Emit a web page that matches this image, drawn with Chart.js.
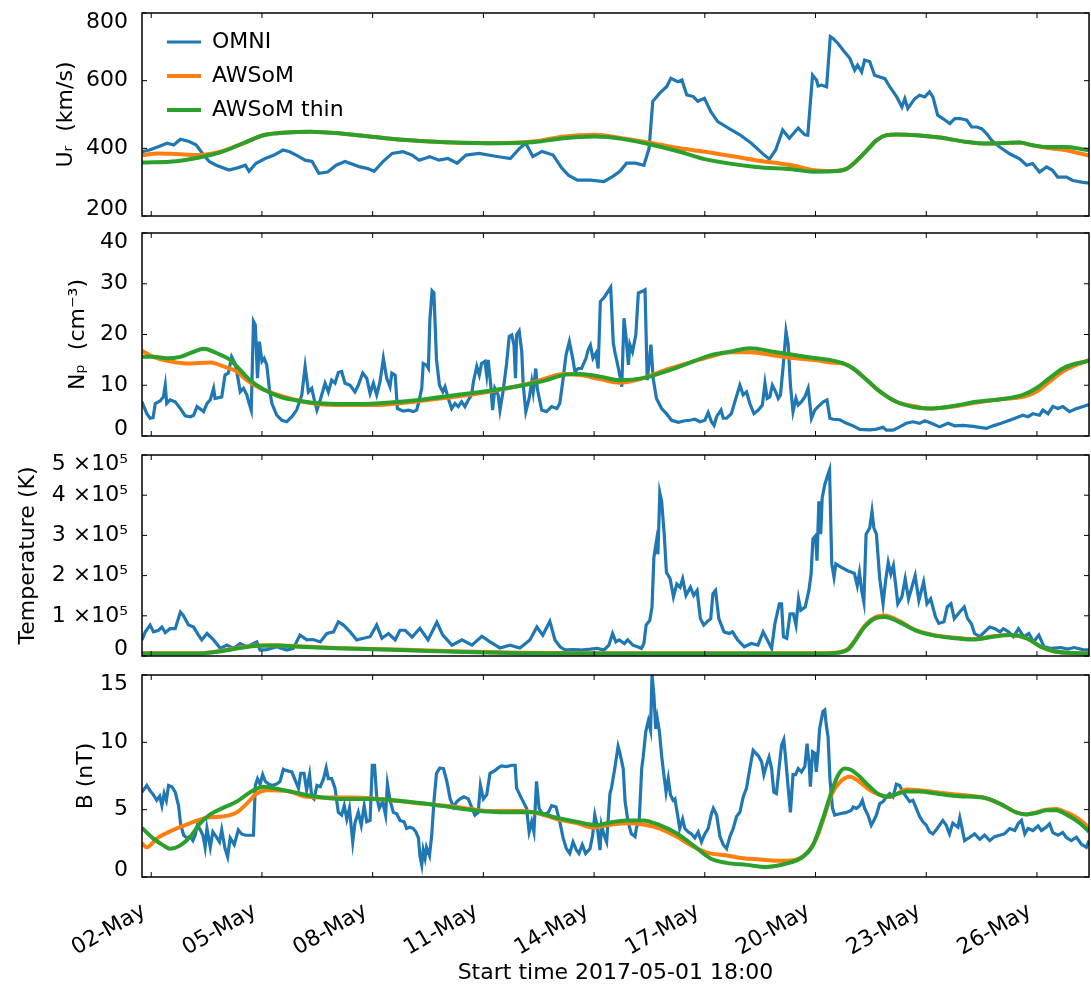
<!DOCTYPE html>
<html>
<head>
<meta charset="utf-8">
<script src="https://cdn.jsdelivr.net/npm/chart.js@4.4.0/dist/chart.umd.min.js"></script>
<style>
  body { margin: 0; background: #fff; }
  #wrap { position: relative; width: 1091px; height: 987px; }
  canvas { position: absolute; left: 0; }
</style>
</head>
<body>
<div id="wrap">
  <canvas id="c-speed" width="1091" height="225" style="top:0px"></canvas>
  <canvas id="c-dens" width="1091" height="220" style="top:225px"></canvas>
  <canvas id="c-temp" width="1091" height="220" style="top:445px"></canvas>
  <canvas id="c-field" width="1091" height="322" style="top:665px"></canvas>
</div>
<script>
// time axis is "day of May 2017" (1.75 = 01-May 18:00)
const tickDays = [2, 5, 8, 11, 14, 17, 20, 23, 26];
const tickLabels = ['02-May', '05-May', '08-May', '11-May', '14-May', '17-May', '20-May', '23-May', '26-May'];
const seriesNames = ['OMNI', 'AWSoM', 'AWSoM thin'];
const seriesColors = ['#1f77b4', '#ff7f0e', '#2ca02c'];

// ---- solar wind speed (km/s)
const omniSpeed = [[1.75,390],[1.95,395],[2.19,405],[2.43,415],[2.61,410],[2.79,427],[3.03,420],[3.22,410],[3.39,385],[3.57,361],[3.76,350],[4.11,336],[4.36,343],[4.55,350],[4.65,332],[4.84,356],[5.09,370],[5.33,380],[5.57,395],[5.75,390],[5.93,380],[6.17,365],[6.36,361],[6.54,326],[6.78,330],[7.01,350],[7.25,361],[7.63,346],[7.87,340],[8.04,332],[8.28,361],[8.53,385],[8.82,390],[9.07,380],[9.26,365],[9.55,375],[9.8,365],[10.04,370],[10.29,356],[10.53,380],[10.88,385],[11.37,376],[11.73,370],[11.98,400],[12.15,415],[12.34,376],[12.59,391],[12.89,380],[13.13,341],[13.31,320],[13.55,306],[13.91,306],[14.27,302],[14.51,317],[14.7,332],[14.88,356],[15.12,356],[15.35,350],[15.49,400],[15.59,539],[15.78,563],[15.97,583],[16.08,607],[16.27,597],[16.38,602],[16.51,558],[16.69,553],[16.81,539],[16.99,548],[17.16,509],[17.35,479],[17.65,459],[17.95,440],[18.26,415],[18.56,385],[18.75,368],[18.92,395],[19.11,454],[19.29,430],[19.53,460],[19.71,440],[19.79,439],[19.92,616],[20.03,601],[20.07,584],[20.16,587],[20.3,582],[20.4,730],[20.47,725],[20.61,710],[20.75,690],[20.93,666],[21.06,631],[21.14,646],[21.25,626],[21.33,661],[21.47,656],[21.6,616],[21.74,611],[21.88,606],[22.01,582],[22.2,552],[22.34,522],[22.42,547],[22.5,518],[22.69,547],[22.82,557],[22.96,552],[23.09,567],[23.18,552],[23.31,498],[23.45,488],[23.64,473],[23.77,488],[23.91,488],[24.1,483],[24.23,463],[24.37,463],[24.5,458],[24.64,443],[24.77,424],[24.99,404],[25.26,384],[25.53,369],[25.72,350],[25.88,355],[26.07,330],[26.26,345],[26.42,335],[26.56,315],[26.8,315],[26.97,305],[27.21,300],[27.41,297]];
const awsomSpeed = [[1.75,380],[2.19,385],[2.68,383],[3.27,380],[3.87,390],[4.49,415],[5.09,440],[5.68,447],[6.31,449],[7.14,444],[8.35,430],[9.55,420],[11.13,415],[12.34,420],[13.18,435],[14.02,440],[14.75,430],[15.59,415],[16.32,400],[17.0,390],[18.38,365],[19.36,350],[19.92,336],[20.47,333],[20.85,340],[21.12,364],[21.39,394],[21.66,424],[21.93,439],[22.2,441],[22.74,439],[23.36,432],[24.1,419],[24.64,414],[25.18,416],[25.53,417],[25.88,409],[26.26,402],[26.8,394],[27.16,385],[27.41,379]];
const thinSpeed = [[1.75,358],[2.68,362],[3.27,372],[3.87,388],[4.49,415],[5.09,440],[5.68,447],[6.31,449],[7.14,444],[8.35,430],[9.55,420],[11.13,415],[12.34,418],[13.18,430],[14.02,435],[14.75,428],[15.59,410],[16.32,390],[17.0,368],[18.38,345],[19.36,338],[19.92,331],[20.47,332],[20.85,340],[21.12,364],[21.39,394],[21.66,424],[21.93,439],[22.2,441],[22.74,439],[23.36,432],[24.1,419],[24.64,414],[25.18,416],[25.53,417],[25.88,409],[26.26,404],[26.8,404],[27.16,399],[27.41,394]];

// ---- proton density (cm^-3)
const omniDens = [[1.75,6.75],[1.88,4.4],[1.97,3.5],[2.05,3.6],[2.11,6.4],[2.24,6.9],[2.33,7.7],[2.38,10.0],[2.42,6.4],[2.51,7.1],[2.65,6.75],[2.79,5.4],[2.92,4.0],[3.06,3.8],[3.15,4.1],[3.24,5.8],[3.37,5.1],[3.42,4.8],[3.51,6.4],[3.6,7.1],[3.69,9.4],[3.73,7.4],[3.91,7.7],[4.0,12.0],[4.09,12.4],[4.18,15.6],[4.27,14.3],[4.35,11.4],[4.41,8.7],[4.5,9.4],[4.59,8.1],[4.64,6.75],[4.71,5.1],[4.77,22.6],[4.82,21.9],[4.88,11.4],[4.93,18.6],[5.0,14.7],[5.06,15.3],[5.13,14.0],[5.2,9.4],[5.27,6.4],[5.4,4.1],[5.54,3.1],[5.67,2.8],[5.81,3.8],[5.94,5.1],[6.08,8.1],[6.17,13.7],[6.26,8.7],[6.35,9.4],[6.41,7.4],[6.49,5.1],[6.58,7.1],[6.71,10.4],[6.8,8.7],[6.89,11.0],[6.98,10.4],[7.07,12.5],[7.16,12.7],[7.25,10.4],[7.39,10.0],[7.52,8.7],[7.61,10.0],[7.73,12.4],[7.84,11.4],[7.93,8.4],[8.02,10.4],[8.11,8.1],[8.2,10.7],[8.29,15.3],[8.38,11.4],[8.47,9.7],[8.52,12.4],[8.61,12.0],[8.67,5.4],[8.83,4.9],[8.97,5.1],[9.1,4.8],[9.19,5.1],[9.24,6.4],[9.33,9.4],[9.37,14.3],[9.45,14.0],[9.51,13.3],[9.55,22.9],[9.61,28.6],[9.66,28.2],[9.73,15.0],[9.81,10.0],[9.9,8.7],[9.96,9.7],[10.05,7.4],[10.14,5.4],[10.23,6.4],[10.32,5.8],[10.41,6.75],[10.5,5.8],[10.59,7.1],[10.68,8.1],[10.73,10.7],[10.82,13.7],[10.89,12.0],[10.95,14.3],[11.04,14.7],[11.09,12.0],[11.13,15.0],[11.2,10.0],[11.25,5.1],[11.31,9.4],[11.4,8.1],[11.45,5.1],[11.54,9.1],[11.63,14.3],[11.7,19.6],[11.77,19.9],[11.83,17.9],[11.87,11.4],[11.9,19.9],[11.97,20.7],[12.04,16.6],[12.08,10.0],[12.15,4.8],[12.24,7.4],[12.31,10.7],[12.35,8.7],[12.42,13.3],[12.46,9.4],[12.58,5.1],[12.71,4.8],[12.85,5.8],[12.99,5.4],[13.07,6.4],[13.15,10.7],[13.24,16.0],[13.33,18.6],[13.42,15.3],[13.48,12.7],[13.57,13.3],[13.66,13.3],[13.78,15.3],[13.84,17.0],[13.9,17.9],[13.97,15.3],[14.05,16.3],[14.11,13.3],[14.17,26.5],[14.29,27.5],[14.45,29.3],[14.52,18.3],[14.57,16.3],[14.66,13.3],[14.72,11.0],[14.75,9.7],[14.81,23.2],[14.86,19.9],[14.93,14.0],[14.97,18.0],[15.04,16.6],[15.13,19.9],[15.2,28.2],[15.31,28.5],[15.38,28.8],[15.44,11.0],[15.5,15.0],[15.54,18.0],[15.6,11.4],[15.69,7.4],[15.83,5.4],[15.96,4.4],[16.1,3.1],[16.28,2.7],[16.46,3.0],[16.6,3.1],[16.73,3.3],[16.87,2.8],[17.0,3.1],[17.09,4.6],[17.18,2.8],[17.25,2.1],[17.32,3.8],[17.44,5.1],[17.5,3.5],[17.59,3.5],[17.72,4.4],[17.84,7.4],[17.95,10.0],[18.04,8.1],[18.13,8.7],[18.22,6.4],[18.33,4.4],[18.45,5.1],[18.56,6.1],[18.63,10.4],[18.69,7.4],[18.76,7.7],[18.83,10.0],[18.92,8.7],[18.99,7.4],[19.05,8.1],[19.12,13.5],[19.2,20.6],[19.26,18.0],[19.32,10.0],[19.39,4.8],[19.47,7.4],[19.53,6.1],[19.62,6.75],[19.71,7.7],[19.8,9.4],[19.89,3.5],[19.98,5.1],[20.07,5.8],[20.21,6.75],[20.31,7.1],[20.39,3.5],[20.48,3.3],[20.66,3.2],[20.84,2.5],[21.02,2.0],[21.2,1.3],[21.47,1.2],[21.65,1.35],[21.83,1.7],[21.92,1.15],[22.1,1.15],[22.28,1.8],[22.46,2.5],[22.64,2.8],[22.82,2.5],[22.96,3.0],[23.14,2.5],[23.36,1.8],[23.59,2.5],[23.77,2.0],[24.0,2.1],[24.27,1.9],[24.45,1.7],[24.63,1.5],[24.81,2.0],[25.03,2.5],[25.26,3.1],[25.44,3.6],[25.62,4.1],[25.76,3.8],[25.89,4.4],[26.07,4.1],[26.16,5.1],[26.3,4.4],[26.43,5.8],[26.57,5.4],[26.7,5.8],[26.88,4.8],[27.07,5.4],[27.25,5.8],[27.41,6.2]];
const awsomDens = [[1.75,16.8],[2.06,15.6],[2.51,14.7],[2.97,14.3],[3.6,14.5],[3.96,13.7],[4.32,12.7],[4.59,11.0],[4.95,9.4],[5.31,8.4],[5.76,7.4],[6.4,6.4],[7.12,6.1],[8.02,6.1],[8.92,6.6],[9.82,7.4],[10.73,8.2],[11.63,9.4],[12.26,10.4],[12.71,11.4],[13.16,12.2],[13.62,12.0],[14.16,11.2],[14.7,10.5],[15.33,11.4],[16.05,13.3],[16.69,14.7],[17.14,15.6],[17.68,16.5],[18.22,16.5],[18.94,15.8],[19.48,15.3],[20.03,14.9],[20.39,14.5],[20.75,14.3],[21.02,13.3],[21.38,11.1],[21.74,8.8],[22.19,6.75],[22.73,5.8],[23.09,5.4],[23.73,5.8],[24.36,6.6],[25.08,7.3],[25.62,7.7],[25.98,8.7],[26.34,10.7],[26.7,12.7],[27.07,14.0],[27.41,15.0]];
const thinDens = [[1.75,15.6],[2.06,15.6],[2.42,15.3],[2.79,15.6],[3.15,16.6],[3.42,17.2],[3.78,16.3],[4.14,15.0],[4.41,13.0],[4.68,11.0],[5.04,9.2],[5.49,7.7],[6.03,6.9],[6.67,6.4],[7.57,6.3],[8.47,6.6],[9.37,7.2],[10.28,8.1],[11.18,8.9],[12.08,10.0],[12.71,11.0],[13.16,12.0],[13.62,12.2],[14.16,11.7],[14.7,11.0],[15.33,11.4],[16.05,13.0],[16.69,14.7],[17.14,15.9],[17.68,16.6],[18.22,17.3],[18.94,16.5],[19.48,15.9],[20.03,15.3],[20.39,15.0],[20.75,14.3],[21.02,13.3],[21.38,11.1],[21.74,8.8],[22.19,6.75],[22.73,5.6],[23.09,5.4],[23.73,5.9],[24.36,6.75],[25.08,7.3],[25.62,8.1],[25.98,9.4],[26.34,11.4],[26.7,13.3],[27.07,14.3],[27.41,14.8]];

// ---- proton temperature (K)
const omniTemp = [[1.75,40000],[1.84,60000],[1.97,77000],[2.06,60000],[2.2,64000],[2.29,72000],[2.38,58000],[2.51,68000],[2.65,68000],[2.79,109000],[2.87,101000],[3.01,77000],[3.15,72000],[3.28,52000],[3.37,40000],[3.51,56000],[3.69,40000],[3.87,19000],[4.05,27000],[4.23,19000],[4.41,31000],[4.59,23000],[4.86,35000],[4.95,15000],[5.13,16000],[5.4,23000],[5.67,15000],[5.85,19000],[6.03,52000],[6.22,40000],[6.39,41000],[6.58,35000],[6.76,56000],[6.94,60000],[7.07,85000],[7.21,77000],[7.39,60000],[7.57,40000],[7.75,44000],[7.93,48000],[8.11,77000],[8.25,44000],[8.43,56000],[8.61,40000],[8.74,64000],[8.88,64000],[9.07,47000],[9.28,69000],[9.5,40000],[9.74,84000],[9.9,52000],[10.15,27000],[10.42,40000],[10.69,27000],[10.96,49000],[11.18,35000],[11.45,20000],[11.72,27000],[11.99,20000],[12.26,40000],[12.45,72000],[12.61,52000],[12.8,86000],[12.94,40000],[13.08,23000],[13.21,15000],[13.44,16000],[13.63,15000],[13.9,17000],[14.08,19000],[14.27,15000],[14.4,27000],[14.5,56000],[14.59,35000],[14.68,40000],[14.82,31000],[14.91,40000],[15.05,27000],[15.18,23000],[15.28,19000],[15.35,31000],[15.41,77000],[15.51,89000],[15.57,122000],[15.62,245000],[15.69,286000],[15.73,253000],[15.78,406000],[15.83,385000],[15.9,303000],[15.96,208000],[16.06,192000],[16.15,147000],[16.24,179000],[16.33,171000],[16.4,192000],[16.49,151000],[16.61,171000],[16.7,151000],[16.79,163000],[16.88,93000],[16.97,77000],[17.06,85000],[17.16,93000],[17.22,155000],[17.29,163000],[17.38,93000],[17.52,60000],[17.66,56000],[17.75,60000],[17.89,40000],[18.07,23000],[18.26,31000],[18.44,27000],[18.58,60000],[18.67,44000],[18.81,19000],[18.9,81000],[19.02,130000],[19.08,130000],[19.13,48000],[19.22,44000],[19.31,105000],[19.4,105000],[19.47,77000],[19.54,142000],[19.6,114000],[19.72,122000],[19.82,163000],[19.88,204000],[19.93,291000],[20.0,299000],[20.04,237000],[20.09,385000],[20.14,303000],[20.18,393000],[20.25,426000],[20.32,447000],[20.38,463000],[20.44,229000],[20.5,196000],[20.55,229000],[20.69,221000],[20.87,212000],[21.05,206000],[21.13,175000],[21.19,208000],[21.25,163000],[21.31,134000],[21.37,303000],[21.47,319000],[21.53,360000],[21.58,319000],[21.65,303000],[21.74,192000],[21.83,130000],[21.9,188000],[21.97,233000],[22.04,204000],[22.11,225000],[22.23,130000],[22.34,147000],[22.43,192000],[22.52,142000],[22.61,171000],[22.7,200000],[22.8,138000],[22.93,184000],[23.02,130000],[23.12,142000],[23.25,97000],[23.34,81000],[23.48,85000],[23.57,122000],[23.67,130000],[23.76,93000],[23.9,109000],[24.03,122000],[24.12,93000],[24.22,81000],[24.31,56000],[24.45,48000],[24.58,60000],[24.72,72000],[24.86,68000],[25.0,60000],[25.09,68000],[25.23,60000],[25.36,48000],[25.5,68000],[25.64,48000],[25.78,56000],[25.91,35000],[26.05,52000],[26.19,23000],[26.37,19000],[26.65,21000],[26.83,17000],[27.01,21000],[27.24,16000],[27.41,15000]];
const awsomTemp = [[1.75,7000],[3.3,7000],[3.9,13000],[4.4,21000],[4.8,26000],[5.4,27000],[6.0,24000],[7.0,20000],[8.7,16000],[10.5,11000],[12.0,8000],[14.0,7000],[20.2,7000],[20.6,9000],[20.87,17000],[21.05,37000],[21.33,75000],[21.6,96000],[21.88,101000],[22.25,88000],[22.7,65000],[23.16,53000],[23.71,46000],[24.26,42000],[24.81,49000],[25.27,52000],[25.73,44000],[26.1,23000],[26.46,12000],[26.83,8000],[27.41,7000]];
const thinTemp = [[1.75,6000],[3.3,6000],[3.9,12000],[4.4,20000],[4.8,25000],[5.4,26000],[6.0,23000],[7.0,19000],[8.7,15000],[10.5,10000],[12.0,7000],[14.0,6000],[20.2,6000],[20.6,8000],[20.87,15000],[21.05,35000],[21.33,72000],[21.6,93000],[21.88,97000],[22.25,85000],[22.7,64000],[23.16,52000],[23.71,45000],[24.26,41000],[24.81,48000],[25.27,52000],[25.73,44000],[26.1,23000],[26.46,12000],[26.83,8000],[27.41,6000]];

// ---- magnetic field magnitude (nT)
const omniField = [[1.75,6.3],[1.88,6.8],[1.97,6.4],[2.06,6.1],[2.15,5.7],[2.23,6.0],[2.29,5.3],[2.35,6.2],[2.41,5.7],[2.47,6.8],[2.56,6.7],[2.65,6.3],[2.74,5.3],[2.8,3.85],[2.88,3.1],[2.97,2.9],[3.06,3.0],[3.13,2.7],[3.19,3.1],[3.25,3.85],[3.33,3.5],[3.4,3.1],[3.46,2.2],[3.51,3.6],[3.6,2.2],[3.67,3.35],[3.76,3.0],[3.85,2.6],[3.91,3.5],[4.0,2.1],[4.07,1.5],[4.14,2.9],[4.25,2.4],[4.36,3.5],[4.45,3.2],[4.55,3.1],[4.68,3.1],[4.77,3.1],[4.82,6.8],[4.88,7.3],[4.95,6.9],[5.02,7.6],[5.09,7.1],[5.18,6.9],[5.27,6.8],[5.4,6.9],[5.49,7.1],[5.58,8.0],[5.67,7.9],[5.81,7.8],[5.9,7.2],[5.99,6.6],[6.05,7.7],[6.14,7.7],[6.21,6.45],[6.29,7.6],[6.35,5.95],[6.41,5.8],[6.49,6.8],[6.58,6.7],[6.67,7.3],[6.74,8.1],[6.8,7.3],[6.89,7.3],[6.98,6.6],[7.07,4.8],[7.16,4.6],[7.23,5.3],[7.3,4.3],[7.37,5.1],[7.46,2.6],[7.52,4.0],[7.61,4.8],[7.69,3.85],[7.77,5.3],[7.84,4.1],[7.93,4.2],[7.99,8.3],[8.05,8.3],[8.11,5.95],[8.18,5.1],[8.27,5.6],[8.35,4.6],[8.4,6.9],[8.47,5.7],[8.56,4.8],[8.65,4.7],[8.74,4.2],[8.85,4.1],[8.92,3.6],[9.01,3.7],[9.1,3.6],[9.17,3.35],[9.24,2.9],[9.28,1.6],[9.33,0.9],[9.37,2.0],[9.42,1.4],[9.46,2.2],[9.54,1.6],[9.6,3.1],[9.66,5.6],[9.73,7.7],[9.82,8.1],[9.92,8.05],[10.01,7.1],[10.1,5.8],[10.19,5.2],[10.28,5.6],[10.37,5.8],[10.47,5.95],[10.59,5.8],[10.68,5.2],[10.77,4.6],[10.86,4.8],[10.92,6.8],[11.0,5.8],[11.09,6.1],[11.18,7.7],[11.31,7.9],[11.4,8.1],[11.49,8.25],[11.63,8.2],[11.77,8.3],[11.86,8.3],[11.9,6.6],[12.04,5.8],[12.17,5.1],[12.24,3.35],[12.31,4.1],[12.37,3.35],[12.44,7.1],[12.51,5.1],[12.62,4.6],[12.76,4.8],[12.85,5.3],[12.97,5.2],[13.07,4.1],[13.16,2.9],[13.25,2.1],[13.34,1.75],[13.43,2.6],[13.52,2.0],[13.59,1.75],[13.68,2.4],[13.77,1.75],[13.89,2.1],[13.96,3.1],[14.02,4.6],[14.08,3.85],[14.16,2.0],[14.2,3.85],[14.27,3.1],[14.34,2.6],[14.43,6.2],[14.47,6.6],[14.56,8.05],[14.65,9.7],[14.7,9.2],[14.79,8.05],[14.84,5.6],[14.92,4.1],[15.01,3.2],[15.11,3.0],[15.15,3.7],[15.22,4.1],[15.29,8.05],[15.33,8.9],[15.4,10.8],[15.47,11.6],[15.53,10.9],[15.57,15.0],[15.62,13.5],[15.67,11.0],[15.71,11.8],[15.77,10.8],[15.83,9.0],[15.89,7.6],[15.95,6.3],[16.01,7.3],[16.07,6.1],[16.14,5.7],[16.19,5.8],[16.25,4.8],[16.32,3.6],[16.4,4.3],[16.46,3.6],[16.55,3.35],[16.64,3.2],[16.73,2.9],[16.82,3.35],[16.91,2.6],[17.0,3.2],[17.09,3.6],[17.18,4.7],[17.23,5.1],[17.32,4.6],[17.41,3.0],[17.5,2.4],[17.59,2.1],[17.68,3.0],[17.77,3.6],[17.86,4.5],[17.95,4.8],[18.04,5.95],[18.13,6.6],[18.22,8.05],[18.31,9.4],[18.45,9.0],[18.54,8.55],[18.6,7.6],[18.67,8.3],[18.74,8.9],[18.81,8.05],[18.87,6.3],[18.94,6.2],[19.01,8.05],[19.08,9.8],[19.14,10.2],[19.19,8.8],[19.26,6.6],[19.32,4.8],[19.39,7.6],[19.46,7.6],[19.53,8.05],[19.62,7.8],[19.71,8.2],[19.77,9.9],[19.83,8.3],[19.86,6.7],[19.92,9.3],[19.98,9.2],[20.02,7.8],[20.07,9.3],[20.11,11.0],[20.2,12.3],[20.25,12.4],[20.29,11.3],[20.34,10.4],[20.39,7.3],[20.46,5.1],[20.52,4.6],[20.66,4.7],[20.84,4.8],[20.97,4.95],[21.02,5.2],[21.11,5.1],[21.2,5.3],[21.27,5.7],[21.33,5.1],[21.42,4.6],[21.51,3.85],[21.58,4.2],[21.65,4.6],[21.74,5.45],[21.83,5.6],[21.92,5.95],[22.01,6.2],[22.1,5.95],[22.19,6.9],[22.28,6.8],[22.37,6.3],[22.46,5.95],[22.55,5.6],[22.64,5.7],[22.73,5.1],[22.82,4.5],[22.91,4.1],[23.0,3.85],[23.09,3.35],[23.18,3.2],[23.27,3.5],[23.36,3.85],[23.45,4.2],[23.54,3.85],[23.63,3.2],[23.72,4.0],[23.86,3.7],[23.91,4.4],[24.04,2.7],[24.18,2.95],[24.31,3.2],[24.45,2.8],[24.58,3.1],[24.72,2.7],[24.85,3.0],[24.99,3.1],[25.12,3.2],[25.26,3.6],[25.4,3.45],[25.49,3.95],[25.58,4.2],[25.67,3.2],[25.76,3.6],[25.89,3.45],[26.03,3.8],[26.12,3.45],[26.25,3.7],[26.34,3.95],[26.43,3.3],[26.57,3.1],[26.7,3.3],[26.79,2.95],[26.93,2.7],[27.07,2.95],[27.2,2.45],[27.34,2.2],[27.41,2.7]];
const awsomField = [[1.75,2.5],[1.88,2.2],[2.15,2.85],[2.6,3.5],[3.06,4.0],[3.51,4.4],[3.96,4.5],[4.32,4.8],[4.59,5.45],[4.86,6.2],[5.13,6.45],[5.67,6.4],[6.21,5.95],[6.76,5.9],[7.57,5.9],[8.47,5.7],[9.37,5.45],[10.28,5.2],[11.18,4.9],[12.08,4.9],[12.53,4.7],[12.98,4.3],[13.53,4.0],[13.98,3.65],[14.34,3.85],[14.88,4.0],[15.33,3.9],[15.78,3.6],[16.23,3.0],[16.69,2.25],[17.14,1.75],[17.59,1.6],[18.04,1.4],[18.49,1.3],[18.94,1.2],[19.39,1.25],[19.75,1.75],[20.02,2.85],[20.25,4.6],[20.43,6.1],[20.66,7.05],[20.93,7.45],[21.2,7.05],[21.47,6.45],[21.74,6.1],[22.01,5.95],[22.19,6.15],[22.46,6.5],[22.82,6.45],[23.27,6.3],[23.9,6.1],[24.54,5.9],[24.99,5.45],[25.44,4.8],[25.71,4.65],[25.98,4.8],[26.25,5.0],[26.52,5.05],[26.79,4.8],[27.06,4.45],[27.29,3.95],[27.41,3.6]];
const thinField = [[1.75,3.65],[2.06,2.85],[2.33,2.35],[2.51,2.1],[2.79,2.35],[3.06,3.0],[3.33,4.0],[3.6,4.65],[3.96,5.15],[4.32,5.6],[4.68,6.3],[5.04,6.7],[5.49,6.5],[5.85,6.3],[6.4,6.0],[7.12,5.8],[8.02,5.8],[8.92,5.6],[9.82,5.3],[10.73,4.95],[11.63,4.8],[12.35,4.8],[12.98,4.4],[13.52,4.1],[14.07,3.85],[14.43,4.05],[14.88,4.2],[15.33,4.2],[15.78,3.85],[16.23,3.25],[16.69,2.35],[17.14,1.4],[17.59,1.05],[18.13,0.9],[18.67,0.75],[19.21,1.0],[19.66,1.5],[19.93,2.35],[20.2,4.35],[20.43,6.3],[20.61,7.55],[20.79,8.05],[20.97,7.95],[21.2,7.45],[21.47,6.7],[21.74,6.1],[21.96,5.95],[22.19,6.15],[22.46,6.35],[22.82,6.35],[23.27,6.2],[23.9,6.0],[24.54,5.9],[24.99,5.45],[25.44,4.8],[25.71,4.65],[25.98,4.75],[26.25,4.95],[26.52,4.95],[26.79,4.65],[27.06,4.2],[27.29,3.7],[27.41,3.35]];

const xMin = 1.75, xMax = 27.41;

Chart.defaults.font.family = "'DejaVu Sans', sans-serif";
Chart.defaults.font.size = 22;
Chart.defaults.color = '#000';

// inward ticks on all four sides + black frame, like the matplotlib axes
const frameTicks = {
  id: 'frameTicks',
  beforeDraw(chart) {
    // end labels sit inside the axes span
    const items = chart.scales.y.getLabelItems();
    if (!items.length || items[0].nudged) return;
    items[0].options.translation[1] -= 7;
    items[items.length - 1].options.translation[1] += 9;
    items[0].nudged = true;
  },
  afterDatasetsDraw(chart) {
    const {ctx, chartArea: a, scales: {x, y}} = chart;
    ctx.save();
    ctx.strokeStyle = '#000';
    ctx.lineWidth = 1;
    ctx.beginPath();
    for (const d of tickDays) {
      const px = x.getPixelForValue(d);
      ctx.moveTo(px, a.bottom); ctx.lineTo(px, a.bottom - 5);
      ctx.moveTo(px, a.top); ctx.lineTo(px, a.top + 5);
    }
    for (const t of y.ticks) {
      const py = y.getPixelForValue(t.value);
      ctx.moveTo(a.left, py); ctx.lineTo(a.left + 5, py);
      ctx.moveTo(a.right, py); ctx.lineTo(a.right - 5, py);
    }
    ctx.stroke();
    ctx.lineWidth = 1.5;
    ctx.strokeRect(a.left, a.top, a.right - a.left, a.bottom - a.top);
    ctx.restore();
  }
};

// legend sits in the upper-left corner of the top axes
const legendNudge = {
  id: 'legendNudge',
  afterLayout(chart) {
    if (!chart.legend) return;
    chart.legend.left = chart.chartArea.left + 13;
    chart.legend.top = chart.chartArea.top + 6;
  }
};

function lineSets(omni, awsom, thin) {
  return [omni, awsom, thin].map((data, i) => ({
    label: seriesNames[i],
    data,
    borderColor: seriesColors[i],
    backgroundColor: seriesColors[i],
    borderWidth: i === 0 ? 3.2 : 4,
    pointRadius: 0,
    fill: false,
    order: 3 - i,
    cubicInterpolationMode: i === 0 ? 'default' : 'monotone',
    tension: 0
  }));
}

function makePanel(id, sets, y, pad, bottomAxis, withLegend) {
  const x = {
    type: 'linear', min: xMin, max: xMax,
    display: !!bottomAxis,
    afterBuildTicks: s => { s.ticks = tickDays.map(v => ({value: v})); },
    grid: {display: false},
    border: {display: false},
    ticks: {
      autoSkip: false, minRotation: 30, maxRotation: 30, padding: 13, labelOffset: -7,
      callback: v => tickLabels[tickDays.indexOf(v)]
    },
    title: {display: !!bottomAxis, text: 'Start time 2017-05-01 18:00', padding: {top: 0, bottom: 1}},
    afterFit: s => {
      s.paddingLeft = 0; s.paddingRight = 0;
      if (bottomAxis) s.height = 110;
    }
  };
  return new Chart(document.getElementById(id), {
    type: 'line',
    data: {datasets: sets},
    options: {
      responsive: false,
      animation: false,
      devicePixelRatio: 1,
      events: [],
      layout: {padding: pad},
      scales: {
        x,
        y: {
          min: y.min, max: y.max,
          grid: {display: false},
          border: {display: false},
          ticks: {stepSize: y.step, padding: 6, callback: y.fmt || (v => v)},
          title: {display: true, text: y.title, padding: 0},
          afterFit: s => {
            s.width = 142 - pad.left;
            s.paddingTop = 0; s.paddingBottom = 0;
          }
        }
      },
      plugins: {
        tooltip: {enabled: false},
        legend: withLegend ? {
          display: true,
          position: 'chartArea',
          align: 'start',
          labels: {
            usePointStyle: true, pointStyle: 'line', pointStyleWidth: 34, padding: 12,
            font: {size: 22}, color: '#000',
            sort: (a, b) => a.datasetIndex - b.datasetIndex,
            generateLabels(chart) {
              const items = Chart.defaults.plugins.legend.labels.generateLabels(chart);
              items.forEach(it => {
                const ds = chart.data.datasets[it.datasetIndex];
                it.lineWidth = ds.borderWidth;
                it.strokeStyle = ds.borderColor;
                it.pointStyle = 'line';
              });
              return items;
            }
          }
        } : {display: false}
      }
    },
    plugins: withLegend ? [frameTicks, legendNudge] : [frameTicks]
  });
}

makePanel('c-speed', lineSets(omniSpeed, awsomSpeed, thinSpeed),
  {min: 200, max: 800, step: 200, title: 'Uᵣ  (km/s)'},
  {left: 53, right: 2, top: 13, bottom: 9}, false, true);

makePanel('c-dens', lineSets(omniDens, awsomDens, thinDens),
  {min: 0, max: 40, step: 10, title: 'Nₚ  (cm⁻³)'},
  {left: 65, right: 2, top: 8, bottom: 9}, false, false);

makePanel('c-temp', lineSets(omniTemp, awsomTemp, thinTemp),
  {min: 0, max: 500000, step: 100000, title: 'Temperature (K)',
   fmt: v => v === 0 ? '0' : (v / 100000) + ' ×10⁵'},
  {left: 15, right: 2, top: 10, bottom: 9}, false, false);

makePanel('c-field', lineSets(omniField, awsomField, thinField),
  {min: 0, max: 15, step: 5, title: 'B (nT)'},
  {left: 73, right: 2, top: 10, bottom: 0}, true, false);
</script>
</body>
</html>
